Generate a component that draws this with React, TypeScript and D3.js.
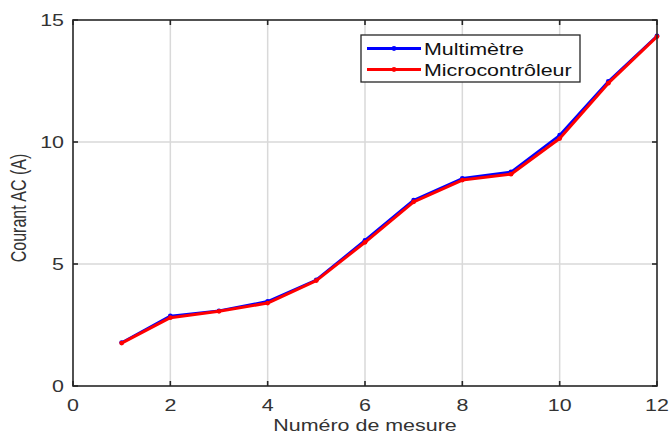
import React from "react";
import * as d3 from "d3";

const measures = [1, 2, 3, 4, 5, 6, 7, 8, 9, 10, 11, 12];
const multimetre = [1.78, 2.87, 3.08, 3.47, 4.35, 5.97, 7.62, 8.51, 8.77, 10.28, 12.48, 14.35];
const microcontroleur = [1.76, 2.8, 3.06, 3.4, 4.32, 5.89, 7.55, 8.44, 8.68, 10.14, 12.41, 14.32];
const xTicks = [0, 2, 4, 6, 8, 10, 12];
const yTicks = [0, 5, 10, 15];
const seriesNames = ["Multimètre", "Microcontrôleur"];
const seriesColors = ["#0000ff", "#ff0000"];

const W = 672;
const H = 437;
const M = { left: 73, top: 20, right: 657, bottom: 386 };
const SX = 1.34; // horizontal text stretch
const FONT = "Liberation Sans, Arial, sans-serif";
const AXIS = "#262626";

export default function App() {
  const x = d3.scaleLinear().domain([0, 12]).range([M.left, M.right]);
  const y = d3.scaleLinear().domain([0, 15]).range([M.bottom, M.top]);
  const line = d3
    .line<number>()
    .x((_, i) => x(measures[i]))
    .y((d) => y(d));
  const series = [multimetre, microcontroleur];
  const widths = [2.6, 3];
  const tick = 5;

  return (
    <svg
      width={W}
      height={H}
      style={{ position: "absolute", left: 0, top: 0, background: "#fff" }}
      fontFamily={FONT}
    >
      <rect x={0} y={0} width={W} height={H} fill="#fff" />
      {/* grid */}
      {xTicks.slice(1, -1).map((t) => (
        <line key={"gx" + t} x1={x(t)} x2={x(t)} y1={M.top} y2={M.bottom} stroke="#d9d9d9" strokeWidth={1.5} />
      ))}
      {yTicks.slice(1, -1).map((t) => (
        <line key={"gy" + t} x1={M.left} x2={M.right} y1={y(t)} y2={y(t)} stroke="#d9d9d9" strokeWidth={1.5} />
      ))}
      {/* series */}
      {series.map((s, k) => (
        <g key={"s" + k}>
          <path
            d={line(s) || ""}
            fill="none"
            stroke={seriesColors[k]}
            strokeWidth={widths[k]}
            strokeLinejoin="round"
          />
          {s.map((v, i) => (
            <circle key={i} cx={x(measures[i])} cy={y(v)} r={2.4} fill={seriesColors[k]} />
          ))}
        </g>
      ))}
      {/* axes box */}
      <rect
        x={M.left}
        y={M.top}
        width={M.right - M.left}
        height={M.bottom - M.top}
        fill="none"
        stroke={AXIS}
        strokeWidth={1.6}
      />
      {xTicks.map((t) => (
        <g key={"tx" + t}>
          <line x1={x(t)} x2={x(t)} y1={M.bottom} y2={M.bottom - tick} stroke={AXIS} strokeWidth={1.6} />
          <line x1={x(t)} x2={x(t)} y1={M.top} y2={M.top + tick} stroke={AXIS} strokeWidth={1.6} />
          <text
            transform={`translate(${x(t)},${M.bottom + 25}) scale(${SX},1)`}
            textAnchor="middle"
            fontSize={16}
            fill="#333"
          >
            {t}
          </text>
        </g>
      ))}
      {yTicks.map((t) => (
        <g key={"ty" + t}>
          <line x1={M.left} x2={M.left + tick} y1={y(t)} y2={y(t)} stroke={AXIS} strokeWidth={1.6} />
          <line x1={M.right} x2={M.right - tick} y1={y(t)} y2={y(t)} stroke={AXIS} strokeWidth={1.6} />
          <text
            transform={`translate(${M.left - 9},${y(t) + 6}) scale(${SX},1)`}
            textAnchor="end"
            fontSize={16}
            fill="#333"
          >
            {t}
          </text>
        </g>
      ))}
      {/* axis titles */}
      <text
        transform={`translate(${(M.left + M.right) / 2},${431}) scale(${SX},1)`}
        textAnchor="middle"
        fontSize={16}
        fill="#333"
      >
        Numéro de mesure
      </text>
      <text
        transform={`translate(${26},${(M.top + M.bottom) / 2 + 5}) scale(${SX},1) rotate(-90)`}
        textAnchor="middle"
        fontSize={16}
        fill="#333"
      >
        Courant AC (A)
      </text>
      {/* legend */}
      <g>
        <rect x={361} y={35} width={219} height={47} fill="#fff" stroke={AXIS} strokeWidth={1.3} />
        {seriesNames.map((n, k) => {
          const ly = 48.5 + k * 21;
          return (
            <g key={n}>
              <line x1={367} x2={421} y1={ly} y2={ly} stroke={seriesColors[k]} strokeWidth={3} />
              <circle cx={394} cy={ly} r={2.4} fill={seriesColors[k]} />
              <text
                transform={`translate(${424},${ly + 6}) scale(${SX},1)`}
                fontSize={16}
                fill="#111"
              >
                {n}
              </text>
            </g>
          );
        })}
      </g>
    </svg>
  );
}
